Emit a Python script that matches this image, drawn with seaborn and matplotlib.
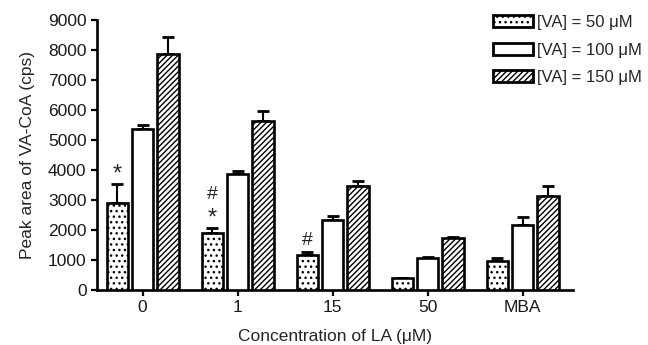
import matplotlib
matplotlib.use("Agg")
import matplotlib.pyplot as plt
from matplotlib.patches import Patch
import numpy as np
import pandas as pd
import seaborn as sns

# ---- data ----
categories = ['0', '1', '15', '50', 'MBA']
va_levels = ['[VA] = 50 \u03bcM', '[VA] = 100 \u03bcM', '[VA] = 150 \u03bcM']
mean_50 = [2910, 1900, 1170, 410, 955]
err_50 = [630, 155, 110, 0, 115]
mean_100 = [5380, 3880, 2330, 1080, 2155]
err_100 = [110, 90, 130, 30, 265]
mean_150 = [7880, 5630, 3480, 1720, 3140]
err_150 = [550, 325, 170, 60, 330]
# significance marks: (category index, series index, text stacked bottom->top)
marks = [(0, 0, ['*']), (1, 0, ['*', '#']), (2, 0, ['#'])]

means = [mean_50, mean_100, mean_150]
errs = [err_50, err_100, err_150]
hatches = ['...', '', '//////']

df = pd.DataFrame({
    'LA': categories * 3,
    'VA': np.repeat(va_levels, len(categories)),
    'value': mean_50 + mean_100 + mean_150,
})

sns.set_theme(style='ticks')
plt.rcParams['font.family'] = ['Liberation Sans', 'DejaVu Sans']
plt.rcParams['hatch.linewidth'] = 1.0
plt.rcParams['hatch.color'] = 'black'

fig = plt.figure(figsize=(6.48, 3.45), dpi=100)
ax = fig.add_axes([97/648, 1 - 290/345, (573-97)/648, (290-20)/345])

sns.barplot(data=df, x='LA', y='value', hue='VA', order=categories,
            hue_order=va_levels, errorbar=None, width=0.8, gap=0.15,
            legend=False, ax=ax, linewidth=1.8, edgecolor='black',
            facecolor='white')

bar_conts = [c for c in ax.containers]
for i, cont in enumerate(bar_conts):
    xs = []
    for bar in cont.patches:
        bar.set_facecolor('white')
        bar.set_edgecolor('black')
        bar.set_hatch(hatches[i])
        bar.set_linewidth(1.9)
        bar.set_zorder(3)
        xs.append(bar.get_x() + bar.get_width() / 2)
    xs = np.array(xs)
    ax.errorbar(xs, means[i], yerr=[np.zeros(len(xs)), errs[i]], fmt='none',
                ecolor='black', elinewidth=1.5, capsize=4.5, capthick=2.0,
                zorder=2)
    for (ci, si, txts) in marks:
        if si == i:
            top = means[i][ci] + errs[i][ci]
            for k, t in enumerate(txts):
                if t == '*':
                    ax.annotate(t, xy=(xs[ci], top), xytext=(0, -1 + k * 17),
                                textcoords='offset points', ha='center',
                                va='bottom', fontsize=17)
                else:
                    ax.annotate(t, xy=(xs[ci], top), xytext=(0, 2 + k * 16),
                                textcoords='offset points', ha='center',
                                va='bottom', fontsize=14)

ax.set_ylim(0, 9000)
ax.set_xlim(-0.48, 4.53)
ax.set_yticks(range(0, 9001, 1000))
ax.set_xlabel('Concentration of LA (\u03bcM)', fontsize=12.5, labelpad=10)
ax.set_ylabel('Peak area of VA-CoA (cps)', fontsize=12.5, labelpad=9)
ax.tick_params(axis='both', labelsize=12.5, width=1.6, length=4.5, pad=3,
               color='black', labelcolor='#1a1a1a')
for s in ['top', 'right']:
    ax.spines[s].set_visible(False)
for s in ['left', 'bottom']:
    ax.spines[s].set_linewidth(1.9)
    ax.spines[s].set_color('black')

handles = [Patch(facecolor='white', edgecolor='black', hatch=h, linewidth=2.0)
           for h in hatches]
fig.legend(handles, va_levels, loc='upper left',
           bbox_to_anchor=(493/648, 1 - 15/345), frameon=False,
           fontsize=12, handlelength=2.4, handleheight=0.75,
           labelspacing=0.75, handletextpad=0.25, borderpad=0,
           borderaxespad=0)

fig.savefig('out.png', dpi=100)
